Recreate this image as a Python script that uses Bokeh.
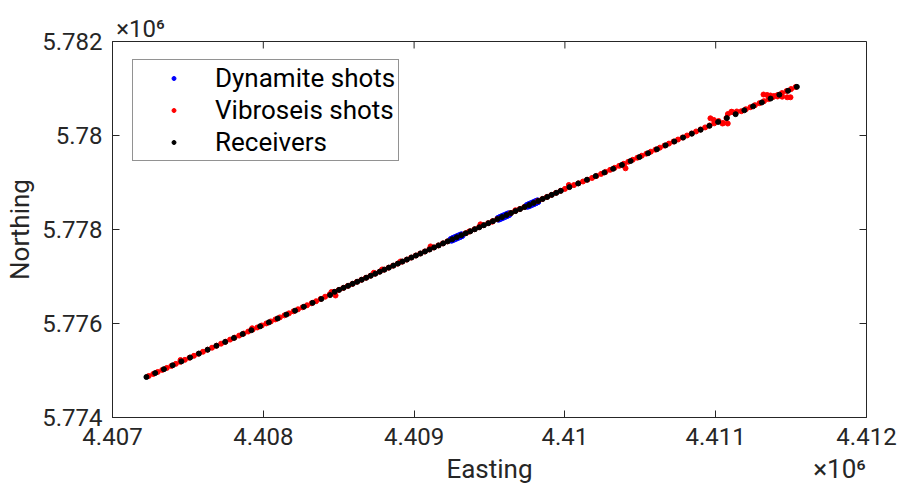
from bokeh.plotting import figure
from bokeh.models import FixedTicker, LinearAxis, Range1d
from bokeh.embed import file_html
from bokeh.resources import INLINE

# ---------------- data (metres) ----------------
rec_x = [
    4407225, 4407283, 4407341, 4407399, 4407457, 4407515, 4407573, 4407631, 4407689, 4407747,
    4407805, 4407863, 4407921, 4407979, 4408037, 4408095, 4408153, 4408211, 4408269, 4408327,
    4408385, 4408443,
    4408473, 4408503, 4408533, 4408563, 4408593, 4408623, 4408653, 4408683, 4408713, 4408743,
    4408773, 4408803, 4408833, 4408863, 4408893, 4408923, 4408953, 4408983, 4409013, 4409043,
    4409073, 4409103, 4409133, 4409163, 4409193, 4409223, 4409253, 4409283, 4409313, 4409343,
    4409373, 4409403, 4409433, 4409463, 4409493, 4409523, 4409553, 4409583, 4409613, 4409643,
    4409673, 4409703, 4409733, 4409763, 4409793, 4409823, 4409853, 4409883, 4409913, 4409943,
    4409973,
    4410030, 4410088, 4410146, 4410204, 4410262, 4410320, 4410378, 4410436, 4410494, 4410552,
    4410610, 4410668, 4410726, 4410784, 4410842, 4410900, 4410958, 4411016, 4411074, 4411132,
    4411190, 4411248, 4411306, 4411364, 4411422, 4411480, 4411538]
rec_y = [
    5774862, 5774945, 5775028, 5775111, 5775194, 5775277, 5775360, 5775443, 5775526, 5775609,
    5775692, 5775775, 5775858, 5775941, 5776024, 5776107, 5776190, 5776273, 5776356, 5776439,
    5776522, 5776605,
    5776673, 5776716, 5776759, 5776802, 5776845, 5776888, 5776931, 5776974, 5777017, 5777060,
    5777103, 5777146, 5777189, 5777232, 5777275, 5777318, 5777361, 5777404, 5777447, 5777490,
    5777533, 5777576, 5777619, 5777662, 5777705, 5777748, 5777791, 5777834, 5777877, 5777920,
    5777963, 5778006, 5778049, 5778092, 5778135, 5778178, 5778221, 5778264, 5778307, 5778350,
    5778393, 5778436, 5778479, 5778522, 5778565, 5778608, 5778651, 5778694, 5778737, 5778780,
    5778823,
    5778902, 5778980, 5779058, 5779136, 5779214, 5779292, 5779375, 5779458, 5779541, 5779624,
    5779707, 5779790, 5779873, 5779956, 5780039, 5780122, 5780205, 5780288, 5780371, 5780454,
    5780537, 5780620, 5780703, 5780786, 5780869, 5780952, 5781035]

vib_x = [
    4407240, 4407270, 4407300, 4407330, 4407360, 4407390, 4407420, 4407450, 4407480, 4407510,
    4407540, 4407570, 4407600, 4407630, 4407660, 4407690, 4407720, 4407750, 4407780, 4407810,
    4407840, 4407870, 4407900, 4407930, 4407960, 4407990, 4408020, 4408050, 4408080, 4408110,
    4408140, 4408170, 4408200, 4408230, 4408260, 4408290, 4408320, 4408350, 4408380, 4408410,
    4408440, 4408470, 4408500, 4408530, 4408560, 4408590, 4408620, 4408650, 4408680, 4408710,
    4408740, 4408770, 4408800, 4408830, 4408860, 4408890, 4408920, 4408950, 4408980, 4409010,
    4409040, 4409070, 4409100, 4409130, 4409160, 4409190, 4409220,
    4409340, 4409370, 4409400, 4409430, 4409460, 4409490, 4409520, 4409550,
    4409640, 4409670, 4409700, 4409730,
    4409820, 4409850, 4409880, 4409910,
    4409940, 4409970, 4410000, 4410030, 4410060, 4410090, 4410120, 4410150, 4410180, 4410210,
    4410240, 4410270, 4410300, 4410330, 4410360, 4410390, 4410420, 4410450, 4410480, 4410510,
    4410540, 4410570, 4410600, 4410630, 4410660, 4410690, 4410720, 4410750, 4410780, 4410810,
    4410840, 4410870, 4410900, 4410930, 4410960, 4410990, 4411020, 4411050, 4411080, 4411110,
    4411140, 4411170, 4411200, 4411230, 4411260, 4411290, 4411320, 4411350, 4411380, 4411410,
    4411440, 4411470, 4411500, 4411530]
vib_y = [
    5774883, 5774926, 5774969, 5775012, 5775055, 5775098, 5775141, 5775184, 5775227, 5775270,
    5775313, 5775356, 5775399, 5775442, 5775485, 5775528, 5775571, 5775614, 5775657, 5775700,
    5775743, 5775786, 5775829, 5775872, 5775915, 5775958, 5776001, 5776044, 5776087, 5776130,
    5776173, 5776216, 5776259, 5776302, 5776345, 5776388, 5776431, 5776474, 5776522, 5776570,
    5776618, 5776671, 5776714, 5776757, 5776800, 5776843, 5776886, 5776929, 5776972, 5777015,
    5777058, 5777101, 5777144, 5777187, 5777230, 5777273, 5777316, 5777359, 5777402, 5777445,
    5777488, 5777531, 5777574, 5777617, 5777660, 5777703, 5777746,
    5777918, 5777961, 5778004, 5778047, 5778090, 5778133, 5778176, 5778219,
    5778348, 5778391, 5778434, 5778477,
    5778606, 5778649, 5778692, 5778735,
    5778778, 5778821, 5778864, 5778907, 5778945, 5778983, 5779021, 5779059, 5779097, 5779140,
    5779183, 5779226, 5779269, 5779312, 5779355, 5779398, 5779441, 5779484, 5779527, 5779570,
    5779613, 5779656, 5779699, 5779742, 5779785, 5779828, 5779871, 5779914, 5779957, 5780000,
    5780043, 5780086, 5780129, 5780172, 5780215, 5780258, 5780308, 5780266, 5780255, 5780500,
    5780511, 5780516, 5780559, 5780602, 5780645, 5780688, 5780731, 5780774, 5780817, 5780860,
    5780903, 5780946, 5780989, 5781032]

vib_extra_x = [4408452, 4408479, 4408733, 4408788, 4408910, 4409109, 4409363, 4409440, 4409518, 4409672,
               4410026, 4410391, 4410402, 4407451, 4407926, 4410965, 4410988, 4411045, 4411071, 4411081,
               4411104, 4411317, 4411341, 4411363, 4411386, 4411410, 4411441, 4411474, 4411496]
vib_extra_y = [5776670, 5776596, 5777080, 5777150, 5777320, 5777640, 5777953, 5778110, 5778165, 5778410,
               5778947, 5779372, 5779302, 5775223, 5775898, 5780366, 5780330, 5780255, 5780372, 5780457,
               5780506, 5780872, 5780862, 5780851, 5780840, 5780830, 5780826, 5780813, 5780813]

dyn_x = [4409248, 4409261, 4409274, 4409288, 4409301, 4409314,
         4409560, 4409573, 4409586, 4409599, 4409613, 4409626,
         4409752, 4409765, 4409778, 4409792, 4409805, 4409818]
dyn_y = [5777782, 5777801, 5777820, 5777840, 5777859, 5777877,
         5778229, 5778248, 5778267, 5778285, 5778305, 5778324,
         5778504, 5778523, 5778541, 5778561, 5778580, 5778599]

x_ticks = [4407000, 4408000, 4409000, 4410000, 4411000, 4412000]
x_tick_labels = ["4.407", "4.408", "4.409", "4.41", "4.411", "4.412"]
y_ticks = [5774000, 5776000, 5778000, 5780000, 5782000]
y_tick_labels = ["5.774", "5.776", "5.778", "5.78", "5.782"]

series_labels = ["Dynamite shots", "Vibroseis shots", "Receivers"]
x_title = "Easting"
y_title = "Northing"
multiplier = "×10⁶"

# ---------------- figure ----------------
FONT = "Roboto"
TXT = "#262626"
X0, X1 = 4407000, 4412000
Y0, Y1 = 5774000, 5782000
FW, FH = 754, 376          # frame size in px
TICK = 7                   # tick length in px

p = figure(width=898, height=492, output_backend="svg", toolbar_location=None,
           x_range=Range1d(X0, X1), y_range=Range1d(Y0, Y1),
           min_border_left=112, min_border_right=32, min_border_top=41, min_border_bottom=75,
           background_fill_color="white", border_fill_color="white")
p.grid.visible = False
p.outline_line_color = TXT
p.outline_line_width = 1

def style_axis(ax, ticks, labels):
    ax.ticker = FixedTicker(ticks=ticks)
    ax.major_label_overrides = {t: l for t, l in zip(ticks, labels)}
    ax.major_tick_in = TICK
    ax.major_tick_out = 0
    ax.minor_tick_line_color = None
    ax.axis_line_color = TXT
    ax.major_tick_line_color = TXT
    ax.major_label_text_font = FONT
    ax.major_label_text_color = TXT
    ax.major_label_text_font_size = "24px"
    ax.axis_label_text_font = FONT
    ax.axis_label_text_font_size = "26px"
    ax.axis_label_text_font_style = "normal"
    ax.axis_label_text_color = TXT

style_axis(p.xaxis[0], x_ticks, x_tick_labels)
style_axis(p.yaxis[0], y_ticks, y_tick_labels)
p.yaxis.axis_label = y_title
p.xaxis.major_label_standoff = 10
p.yaxis.major_label_standoff = 10
p.yaxis.axis_label_standoff = 4

def label_axis(ticks, labels, size, standoff):
    return LinearAxis(ticker=FixedTicker(ticks=ticks),
                      major_label_overrides={t: l for t, l in zip(ticks, labels)},
                      major_tick_line_color=None, minor_tick_line_color=None,
                      axis_line_color=None, major_tick_in=0, major_tick_out=0,
                      major_label_standoff=standoff, major_label_text_font=FONT,
                      major_label_text_font_size=size, major_label_text_color=TXT)

# bottom row: "Easting" centred, multiplier at right end
p.add_layout(label_axis([4409500, 4411821], [x_title, multiplier], "26px", 6), "below")
# top-left multiplier
p.add_layout(label_axis([4407186], [multiplier], "24px", -1), "above")

# inward tick marks on the top and right edges of the box
dy = TICK * (Y1 - Y0) / FH
dx = TICK * (X1 - X0) / FW
p.segment(x0=x_ticks, y0=[Y1] * len(x_ticks), x1=x_ticks, y1=[Y1 - dy] * len(x_ticks),
          line_color=TXT, line_width=1)
p.segment(x0=[X1] * len(y_ticks), y0=y_ticks, x1=[X1 - dx] * len(y_ticks), y1=y_ticks,
          line_color=TXT, line_width=1)

p.scatter(dyn_x, dyn_y, marker="circle", size=7, color="#0000ff", legend_label=series_labels[0])
p.scatter(vib_x + vib_extra_x, vib_y + vib_extra_y, marker="circle", size=5, color="#ff0000",
          legend_label=series_labels[1])
p.scatter(rec_x, rec_y, marker="circle", size=5, color="#000000", legend_label=series_labels[2])

lg = p.legend[0]
lg.location = (20, 256)
lg.label_text_font = FONT
lg.label_text_font_size = "26px"
lg.label_text_color = "#000000"
lg.glyph_width = 75
lg.glyph_height = 10
lg.label_height = 22
lg.spacing = 2
lg.padding = 3
lg.margin = 0
lg.label_standoff = 4
lg.border_line_color = TXT
lg.border_line_width = 1
lg.background_fill_alpha = 1

open("out.html", "w").write(file_html(p, INLINE))
